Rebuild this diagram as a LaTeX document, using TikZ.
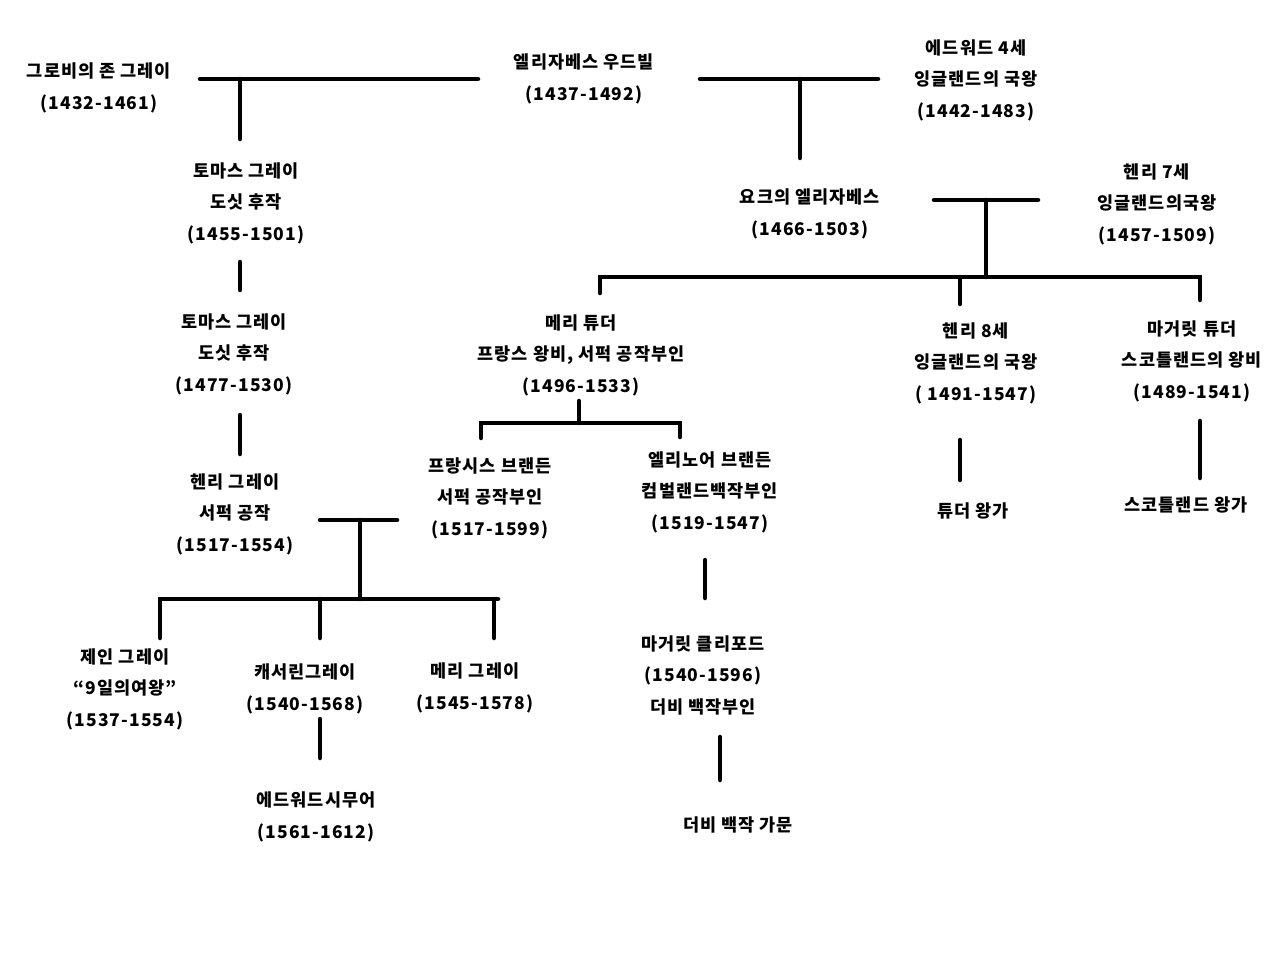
\documentclass[tikz,border=0pt]{standalone}
\usepackage{fontspec}
\setmainfont{Noto Sans CJK KR}[LetterSpace=6]
\tikzset{
  person/.style={align=center, inner sep=0pt, font=\fontsize{17.5}{31.5}\selectfont\bfseries},
  link/.style={line width=4.5pt, line cap=round, black}
}
\begin{document}
\begin{tikzpicture}[x=1pt,y=-1pt]
\fill[white] (0,0) rectangle (1280,960);
\useasboundingbox (0,0) rectangle (1280,960);

% people
\node[person] (john) at (99,88) {그로비의 존 그레이\\(1432-1461)};
\node[person] (woodville) at (584,79) {엘리자베스 우드빌\\(1437-1492)};
\node[person] (edward4) at (976,80) {에드워드 4세\\잉글랜드의 국왕\\(1442-1483)};
\node[person] (thomas1) at (246,203) {토마스 그레이\\도싯 후작\\(1455-1501)};
\node[person] (eyork) at (810,214) {요크의 엘리자베스\\(1466-1503)};
\node[person] (henry7) at (1157,204) {헨리 7세\\잉글랜드의국왕\\(1457-1509)};
\node[person] (thomas2) at (234,354) {토마스 그레이\\도싯 후작\\(1477-1530)};
\node[person] (marytudor) at (581,355) {메리 튜더\\프랑스 왕비, 서퍽 공작부인\\(1496-1533)};
\node[person] (henry8) at (976,363) {헨리 8세\\잉글랜드의 국왕\\( 1491-1547)};
\node[person] (margtudor) at (1192,361) {마거릿 튜더\\스코틀랜드의 왕비\\(1489-1541)};
\node[person] (henrygrey) at (235,514) {헨리 그레이\\서퍽 공작\\(1517-1554)};
\node[person] (frances) at (490,498) {프랑시스 브랜든\\서퍽 공작부인\\(1517-1599)};
\node[person] (eleanor) at (710,492) {엘리노어 브랜든\\컴벌랜드백작부인\\(1519-1547)};
\node[person] (tudorhouse) at (973,511) {튜더 왕가};
\node[person] (scothouse) at (1186,505) {스코틀랜드 왕가};
\node[person] (jane) at (125,689) {제인 그레이\\“9일의여왕”\\(1537-1554)};
\node[person] (catherine) at (305,689) {캐서린그레이\\(1540-1568)};
\node[person] (marygrey) at (475,688) {메리 그레이\\(1545-1578)};
\node[person] (seymour) at (316,817) {에드워드시무어\\(1561-1612)};
\node[person] (clifford) at (703,675) {마거릿 클리포드\\(1540-1596)\\더비 백작부인};
\node[person] (derbyhouse) at (738,825) {더비 백작 가문};

% junction coordinates
\coordinate (m1l) at (200,79);   \coordinate (m1r) at (478,79);
\coordinate (m1j) at (240,79);   \coordinate (m1d) at (240,139);
\coordinate (m2l) at (700,79);   \coordinate (m2r) at (878,79);
\coordinate (m2j) at (800,79);   \coordinate (m2d) at (800,158);
\coordinate (m3l) at (934,200);  \coordinate (m3r) at (1038,200);
\coordinate (m3j) at (986,200);  \coordinate (m3d) at (986,277);
\coordinate (c3l) at (600,277);  \coordinate (c3r) at (1200,277);
\coordinate (c3a) at (600,293);  \coordinate (c3b0) at (960,277);
\coordinate (c3b) at (960,304);  \coordinate (c3c) at (1200,300);
\coordinate (t1a) at (240,262);  \coordinate (t1b) at (240,290);
\coordinate (t2a) at (240,415);  \coordinate (t2b) at (240,454);
\coordinate (mta) at (579,401);  \coordinate (mtb) at (579,423);
\coordinate (mcl) at (481,423);  \coordinate (mcr) at (680,423);
\coordinate (mcld) at (481,438); \coordinate (mcrd) at (680,437);
\coordinate (m4l) at (320,520);  \coordinate (m4r) at (397,520);
\coordinate (m4j) at (360,520);  \coordinate (m4d) at (360,599);
\coordinate (c4l) at (160,599);  \coordinate (c4r) at (498,599);
\coordinate (c4ld) at (160,638); \coordinate (c4m) at (320,599);
\coordinate (c4md) at (320,638); \coordinate (c4r0) at (494,599);
\coordinate (c4rd) at (494,638);
\coordinate (csa) at (320,719);  \coordinate (csb) at (320,758);
\coordinate (eca) at (705,560);  \coordinate (ecb) at (705,598);
\coordinate (cda) at (720,737);  \coordinate (cdb) at (720,780);
\coordinate (h8a) at (960,440);  \coordinate (h8b) at (960,480);
\coordinate (mga) at (1200,421); \coordinate (mgb) at (1200,478);

% connectors
\draw[link] (m1l) -- (m1r);  \draw[link] (m1j) -- (m1d);
\draw[link] (m2l) -- (m2r);  \draw[link] (m2j) -- (m2d);
\draw[link] (m3l) -- (m3r);  \draw[link] (m3j) -- (m3d);
\draw[link] (c3a) -- (c3l) -- (c3r) -- (c3c);
\draw[link] (c3b0) -- (c3b);
\draw[link] (t1a) -- (t1b);
\draw[link] (t2a) -- (t2b);
\draw[link] (mta) -- (mtb);
\draw[link] (mcld) -- (mcl) -- (mcr) -- (mcrd);
\draw[link] (m4l) -- (m4r);  \draw[link] (m4j) -- (m4d);
\draw[link] (c4ld) -- (c4l) -- (c4r);
\draw[link] (c4m) -- (c4md);
\draw[link] (c4r0) -- (c4rd);
\draw[link] (csa) -- (csb);
\draw[link] (eca) -- (ecb);
\draw[link] (cda) -- (cdb);
\draw[link] (h8a) -- (h8b);
\draw[link] (mga) -- (mgb);
\end{tikzpicture}
\end{document}
